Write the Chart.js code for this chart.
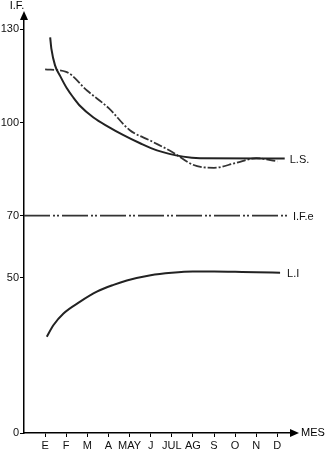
<!DOCTYPE html>
<html>
<head>
<meta charset="utf-8">
<script src="https://cdn.jsdelivr.net/npm/chart.js@4.4.1/dist/chart.umd.min.js"></script>
<style>
  body { margin: 0; background: #fff; }
  #wrap { width: 329px; height: 452px; position: relative; }
</style>
</head>
<body>
<div id="wrap"><canvas id="ifChart"></canvas></div>
<script>
var months = ["E", "F", "M", "A", "MAY", "J", "JUL", "AG", "S", "O", "N", "D"];
var yTicks = [0, 50, 70, 100, 130];

// L.S. curve (month position, value)
var lsAt  = [1.24, 1.3, 1.47, 1.71, 2.03, 2.34, 2.66, 3.29, 4, 4.69, 5.5, 6.3, 7.54, 8.34, 12.35];
var lsVal = [127.4, 123.6, 118.4, 115, 111, 108, 105.3, 101.6, 98.6, 96, 93.3, 91, 89, 88.5, 88.4];

// monthly I.F. observed (dash-dot)
var ifVal = [117.1, 116.3, 110.2, 104.7, 97.6, 94.1, 90.6, 86.4, 85.4, 86.9, 88.5, 87.5];

// L.I curve (month position, value)
var liAt  = [1.08, 1.39, 1.87, 2.66, 3.45, 4.24, 4.87, 6, 7, 8, 9, 10, 11, 12.13];
var liVal = [31, 34.7, 38.5, 42.3, 45.5, 47.7, 49.1, 50.8, 51.6, 52, 52, 51.9, 51.8, 51.6];

// I.F.e level
var ifeAt  = [0, 12.5];
var ifeVal = [70, 70];

function pts(xs, ys) {
    return ys.map(function (v, i) { return {x: xs[i], y: v}; });
}
var monthIdx = months.map(function (m, i) { return i + 1; });

var endLabels = {
    id: 'endLabels',
    afterDatasetsDraw: function (chart) {
        var ctx = chart.ctx;
        ctx.save();
        ctx.fillStyle = '#111';
        ctx.font = '11px "Liberation Sans", Arial, sans-serif';
        ctx.textBaseline = 'middle';
        ctx.textAlign = 'left';
        chart.data.datasets.forEach(function (ds, i) {
            if (!ds.endLabel) return;
            var meta = chart.getDatasetMeta(i);
            var p = meta.data[meta.data.length - 1];
            ctx.fillText(ds.endLabel, p.x + ds.labelGap, p.y + 1);
        });

        // axis arrows and names
        var a = chart.chartArea;
        ctx.fillStyle = '#000';
        ctx.beginPath();
        ctx.moveTo(a.left, a.top - 9);
        ctx.lineTo(a.left - 4, a.top);
        ctx.lineTo(a.left + 4, a.top);
        ctx.closePath();
        ctx.fill();
        ctx.beginPath();
        ctx.moveTo(a.right + 9, a.bottom);
        ctx.lineTo(a.right, a.bottom - 4);
        ctx.lineTo(a.right, a.bottom + 4);
        ctx.closePath();
        ctx.fill();
        ctx.textAlign = 'center';
        ctx.fillText('I.F.', a.left - 7, a.top - 14);
        ctx.textAlign = 'left';
        ctx.fillText('MES', a.right + 11, a.bottom);
        ctx.restore();
    }
};

var ctx = document.getElementById("ifChart").getContext("2d");
new Chart(ctx, {
    type: 'line',
    data: {
        datasets: [
            {
                data: pts(lsAt, lsVal),
                endLabel: 'L.S.',
                labelGap: 5,
                borderColor: '#222',
                borderWidth: 2,
                cubicInterpolationMode: 'monotone',
                pointRadius: 0
            },
            {
                data: pts(monthIdx, ifVal),
                borderColor: '#333',
                borderWidth: 1.8,
                borderDash: [9, 2, 2, 2],
                cubicInterpolationMode: 'monotone',
                pointRadius: 0
            },
            {
                data: pts(liAt, liVal),
                endLabel: 'L.I',
                labelGap: 7,
                borderColor: '#222',
                borderWidth: 2,
                cubicInterpolationMode: 'monotone',
                pointRadius: 0
            },
            {
                data: pts(ifeAt, ifeVal),
                endLabel: 'I.F.e',
                labelGap: 5,
                borderColor: '#333',
                borderWidth: 1.8,
                borderDash: [26, 3, 2, 2, 2, 3],
                pointRadius: 0
            }
        ]
    },
    options: {
        responsive: true,
        maintainAspectRatio: false,
        animation: false,
        layout: {padding: {top: 20, right: 39, left: 0, bottom: 0}},
        plugins: {legend: {display: false}, tooltip: {enabled: false}},
        scales: {
            x: {
                type: 'linear',
                min: 0,
                max: 12.6,
                afterBuildTicks: function (s) {
                    s.ticks = monthIdx.map(function (v) { return {value: v}; });
                },
                afterFit: function (s) { s.height = 19; },
                grid: {drawOnChartArea: false, tickLength: 4, color: '#000', lineWidth: 1},
                border: {color: '#000', width: 1.5},
                ticks: {
                    color: '#111',
                    padding: 2,
                    maxRotation: 0,
                    autoSkip: false,
                    font: {family: '"Liberation Sans", Arial, sans-serif', size: 11},
                    callback: function (v) { return months[v - 1]; }
                }
            },
            y: {
                min: 0,
                max: 133,
                afterBuildTicks: function (s) {
                    s.ticks = yTicks.map(function (v) { return {value: v}; });
                },
                afterFit: function (s) { s.width = 24; },
                grid: {drawOnChartArea: false, tickLength: 4, color: '#000', lineWidth: 1},
                border: {color: '#000', width: 1.5},
                ticks: {
                    color: '#111',
                    padding: 1,
                    font: {family: '"Liberation Sans", Arial, sans-serif', size: 11}
                }
            }
        }
    },
    plugins: [endLabels]
});
</script>
</body>
</html>
